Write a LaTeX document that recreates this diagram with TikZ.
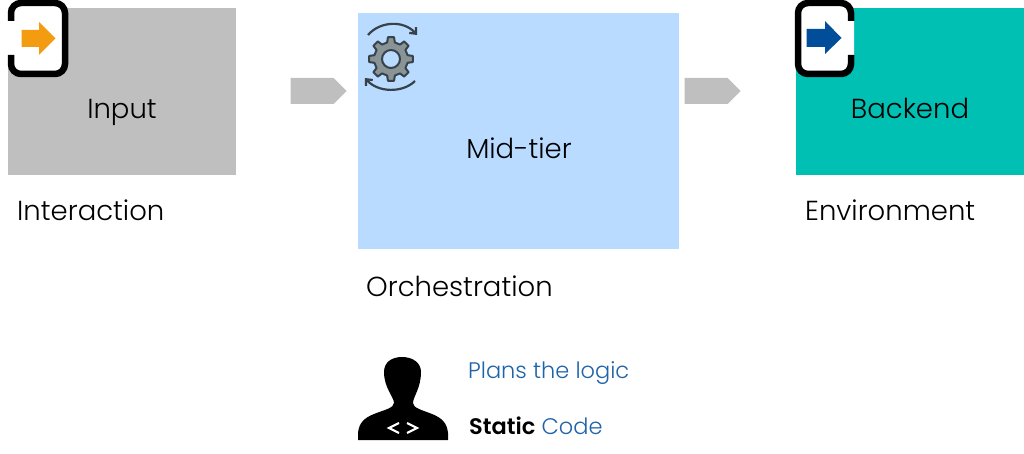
\documentclass[tikz,border=0pt]{standalone}
\usepackage{fontspec}
\setmainfont{Poppins Light}[BoldFont={Poppins SemiBold}]
\usetikzlibrary{arrows.meta,shapes.symbols,positioning}

\definecolor{boxgray}{HTML}{BFBFBF}
\definecolor{boxblue}{HTML}{B8DBFF}
\definecolor{boxteal}{HTML}{00BFB3}
\definecolor{doorfrom}{HTML}{F39C12}
\definecolor{doorto}{HTML}{004E9A}
\definecolor{plantext}{HTML}{1F63A8}
\definecolor{gearfill}{HTML}{8A9496}
\definecolor{geardark}{HTML}{37424A}

\tikzset{
    block/.style={draw=none, rectangle, inner sep=0pt, anchor=north west},
    flow/.style={shape=signal, signal to=east, signal pointer angle=90, fill=boxgray, inner sep=0pt, minimum width=56pt, minimum height=26pt},
    doorframe/.style={draw=black, line width=6.5pt, rounded corners=10pt, line cap=butt},
    title/.style={font=\fontsize{27.5}{32}\selectfont, text=black, inner sep=0pt, anchor=base},
    caption/.style={font=\fontsize{27.5}{32}\selectfont, text=black, inner sep=0pt, anchor=base west},
    plan/.style={font=\fontsize{22.5}{27}\selectfont, text=plantext, inner sep=0pt, anchor=base west},
    spin/.style={draw=geardark, line width=2.2pt, -{Straight Barb[length=5pt,width=9pt]}}
}

\begin{document}
\begin{tikzpicture}[x=1pt,y=-1pt]
    \useasboundingbox (0,0) rectangle (1024,454);

    % boxes
    \node[block, fill=boxgray, minimum width=228pt, minimum height=167pt] (Input) at (8,8) {};
    \node[block, fill=boxblue, minimum width=321pt, minimum height=236pt] (Midtier) at (358,13) {};
    \node[block, fill=boxteal, minimum width=228pt, minimum height=167pt] (Backend) at (796,8) {};

    \node[title] (InputText) at (122,119) {Input};
    \node[title] (MidtierText) at (519,159) {Mid-tier};
    \node[title] (BackendText) at (910,119) {Backend};

    \node[caption] (Interaction) at (17,221) {Interaction};
    \node[caption] (Orchestration) at (366,296) {Orchestration};
    \node[caption] (Environment) at (805,221) {Environment};

    % block arrows
    \node[flow] (FlowA) at (312,91) {};
    \node[flow] (FlowB) at (706,91) {};

    % input door
    \fill[white, rounded corners=10pt] (8,3) rectangle (65,74);
    \draw[doorframe] (11,21) -- (11,3) -- (65,3) -- (65,74) -- (11,74) -- (11,55);
    \fill[doorfrom] (21.5,30) -- (39,30) -- (39,22) -- (55.5,38.5) -- (39,55) -- (39,47) -- (21.5,47) -- cycle;

    % backend door
    \fill[white, rounded corners=10pt] (798,3) rectangle (854,74);
    \draw[doorframe] (851,21) -- (851,3) -- (798,3) -- (798,74) -- (851,74) -- (851,55);
    \fill[doorto] (806.5,29) -- (825,29) -- (825,21) -- (841.5,38) -- (825,54) -- (825,47) -- (806.5,47) -- cycle;

    % gear
    \begin{scope}[shift={(391,59)}]
        \draw[draw=geardark, fill=gearfill, line width=2pt, line join=round]
            (-13:17)
            \foreach \a in {0,45,...,315} {
                -- ({\a-13}:17) -- ({\a-8}:22) -- ({\a+8}:22) -- ({\a+13}:17)
            } -- cycle;
        \draw[draw=geardark, fill=boxblue, line width=2pt] (0,0) circle (9);
    \end{scope}
    \draw[spin] (368,35) .. controls (380,21) and (404,20) .. (417,35);
    \draw[spin] (415,81) .. controls (403,93) and (378,93) .. (365,78);

    % person
    \fill[black] (358,440) -- (358,433)
        .. controls (359,423) and (364,418) .. (374,414)
        .. controls (384,410) and (394,408) .. (394,403)
        .. controls (394,397) and (384,388) .. (384,372)
        .. controls (384,362) and (392,357) .. (402,357)
        .. controls (413,357) and (421,363) .. (421,372)
        .. controls (421,388) and (413,397) .. (413,403)
        .. controls (413,408) and (422,410) .. (432,414)
        .. controls (442,418) and (447,423) .. (448,433)
        -- (448,440) -- cycle;
    \draw[white, line width=2.2pt] (399,423) -- (389,428) -- (399,433);
    \draw[white, line width=2.2pt] (407,423) -- (417,428) -- (407,433);

    % plan text
    \node[plan] (Plans) at (468,378) {Plans the logic};
    \node[plan] (Static) at (469,434) {\textcolor{black}{\textbf{Static}} Code};
\end{tikzpicture}
\end{document}
